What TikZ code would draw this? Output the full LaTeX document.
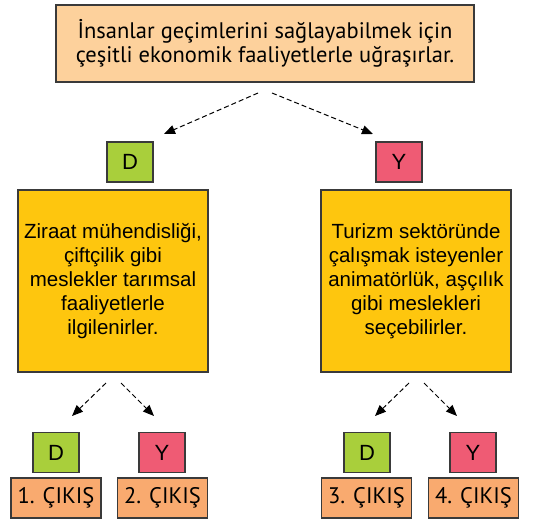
\documentclass[tikz,border=0pt]{standalone}
\usepackage{fontspec}
\setmainfont{Liberation Sans}
\newfontfamily\dinfont{PT Sans}
\usepackage{xcolor}
\usetikzlibrary{arrows.meta, positioning}

\definecolor{topfill}{HTML}{FDD19C}
\definecolor{boxfill}{HTML}{FEC60E}
\definecolor{dfill}{HTML}{A9CF3B}
\definecolor{yfill}{HTML}{EF5B74}
\definecolor{outfill}{HTML}{F9AA6F}
\definecolor{edge}{HTML}{3A3A3A}

\tikzset{
    box/.style={draw=edge, line width=1.2pt, inner sep=0pt, align=center},
    letter/.style={box, minimum width=46pt, minimum height=40pt, font=\fontsize{22}{24}\selectfont},
    yes/.style={letter, fill=dfill},
    no/.style={letter, fill=yfill},
    info/.style={box, fill=boxfill, minimum width=190pt, minimum height=182pt, font=\fontsize{20.5}{24}\selectfont},
    result/.style={box, fill=outfill, minimum width=90pt, minimum height=40pt, font=\fontsize{22.5}{24}\dinfont},
    choice/.style={dashed, dash pattern=on 5pt off 3pt, line width=1pt, -{Triangle[length=11pt,width=9pt]}}
}

\begin{document}
\begin{tikzpicture}[x=1pt,y=-1pt]
    \useasboundingbox (0,0) rectangle (545,519);

    \node[box, fill=topfill, minimum width=418pt, minimum height=77pt,
          font=\fontsize{22.5}{23.5}\dinfont] (start) at (265,43.5)
        {İnsanlar geçimlerini sağlayabilmek için\\çeşitli ekonomik faaliyetlerle uğraşırlar.};

    \node[yes] (d) at (130,162) {D};
    \node[no] (y) at (399,162) {Y};

    \node[info] (left) at (113,281)
        {Ziraat mühendisliği,\\çiftçilik gibi\\meslekler tarımsal\\faaliyetlerle\\ilgilenirler.};
    \node[info] (right) at (416,281)
        {Turizm sektöründe\\çalışmak isteyenler\\animatörlük, aşçılık\\gibi meslekleri\\seçebilirler.};

    \node[yes] (dd) at (56,452.5) {D};
    \node[no] (dy) at (162,452.5) {Y};
    \node[yes] (yd) at (367,452.5) {D};
    \node[no] (yy) at (473,452.5) {Y};

    \node[result] (out1) at (56,498) {1. ÇIKIŞ};
    \node[result] (out2) at (162.5,498) {2. ÇIKIŞ};
    \node[result] (out3) at (366.5,498) {3. ÇIKIŞ};
    \node[result] (out4) at (473.5,498) {4. ÇIKIŞ};

    % arrow ends
    \coordinate (s1) at (258,93);
    \coordinate (s2) at (272,93);
    \coordinate (e1) at (164,134);
    \coordinate (e2) at (373,134);
    \coordinate (s3) at (106,383);
    \coordinate (s4) at (121,383);
    \coordinate (e3) at (72,416);
    \coordinate (e4) at (154,416);
    \coordinate (s5) at (409,383);
    \coordinate (s6) at (424,383);
    \coordinate (e5) at (375,416);
    \coordinate (e6) at (457,416);

    \draw[choice] (s1) -- (e1);
    \draw[choice] (s2) -- (e2);
    \draw[choice] (s3) -- (e3);
    \draw[choice] (s4) -- (e4);
    \draw[choice] (s5) -- (e5);
    \draw[choice] (s6) -- (e6);
\end{tikzpicture}
\end{document}
